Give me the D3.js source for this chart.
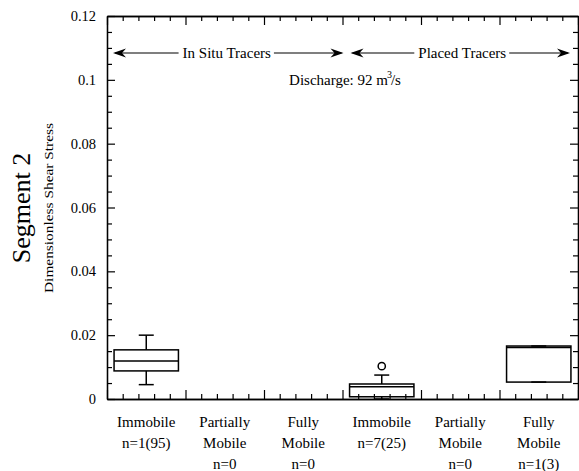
<!DOCTYPE html>
<html><head><meta charset="utf-8">
<script src="https://cdn.jsdelivr.net/npm/d3@7"></script>
<style>body{margin:0;background:#fff}svg{display:block}svg text{font-family:"Liberation Serif","Times New Roman",serif !important;fill:#000}</style>
</head><body>
<svg id="c" width="579" height="471" font-family="Liberation Serif"></svg>
<script>
const categories = ["Immobile in situ","Partially Mobile in situ","Fully Mobile in situ","Immobile placed","Partially Mobile placed","Fully Mobile placed"];
const labelLines = [["Immobile","n=1(95)"],["Partially","Mobile","n=0"],["Fully","Mobile","n=0"],["Immobile","n=7(25)"],["Partially","Mobile","n=0"],["Fully","Mobile","n=1(3)"]];
const whiskerLow  = [0.0045, null, null, 0.0000, null, 0.0053];
const q1          = [0.0088, null, null, 0.0007, null, 0.0053];
const median      = [0.0119, null, null, 0.0038, null, 0.0161];
const q3          = [0.0154, null, null, 0.0047, null, 0.0166];
const whiskerHigh = [0.0200, null, null, 0.0075, null, 0.0166];
const outliers    = [[], [], [], [0.0103], [], []];
const yTicks = [0, 0.02, 0.04, 0.06, 0.08, 0.1, 0.12];
const yTickLabels = ["0","0.02","0.04","0.06","0.08","0.1","0.12"];
const groups = [{name:"In Situ Tracers", from:0, to:3}, {name:"Placed Tracers", from:3, to:6}];

const FONT = "Liberation Serif";
const svg = d3.select("#c");
const L=107, R=578, T=16, B=399;
const x = d3.scaleBand().domain(categories).range([L,R]).padding(0);
const xl = d3.scaleLinear().domain([0,categories.length]).range([L,R]);
const y = d3.scaleLinear().domain([0,0.12]).range([B,T]);

const majorX = d3.range(0, categories.length+1);
const minorX = d3.range(0, categories.length*5+1).map(d=>d/5).filter(d=>Math.abs(d-Math.round(d))>1e-6);
const minorY = d3.range(0, 25).map(d=>d*0.005).filter(d=>Math.abs(d/0.02-Math.round(d/0.02))>1e-6);

function styleAxis(g){ g.select(".domain").attr("stroke","#000").attr("stroke-width",1.3);
  g.selectAll(".tick line").attr("stroke","#000").attr("stroke-width",1.2); g.selectAll("text").remove(); }

svg.append("g").attr("transform",`translate(0,${B})`).call(d3.axisBottom(xl).tickValues(majorX).tickSizeInner(-9).tickSizeOuter(0)).call(styleAxis);
svg.append("g").attr("transform",`translate(0,${B})`).call(d3.axisBottom(xl).tickValues(minorX).tickSizeInner(-5).tickSizeOuter(0)).call(styleAxis);
svg.append("g").attr("transform",`translate(0,${T})`).call(d3.axisTop(xl).tickValues(majorX).tickSizeInner(-9).tickSizeOuter(0)).call(styleAxis);
svg.append("g").attr("transform",`translate(0,${T})`).call(d3.axisTop(xl).tickValues(minorX).tickSizeInner(-5).tickSizeOuter(0)).call(styleAxis);
svg.append("g").attr("transform",`translate(${R},0)`).call(d3.axisRight(y).tickValues(yTicks).tickSizeInner(-8).tickSizeOuter(0)).call(styleAxis);
svg.append("g").attr("transform",`translate(${R},0)`).call(d3.axisRight(y).tickValues(minorY).tickSizeInner(-5).tickSizeOuter(0)).call(styleAxis);
svg.append("g").attr("transform",`translate(${L},0)`).call(d3.axisLeft(y).tickValues(minorY).tickSizeInner(-5).tickSizeOuter(0)).call(styleAxis);
const ly = svg.append("g").attr("transform",`translate(${L},0)`)
  .call(d3.axisLeft(y).tickValues(yTicks).tickSizeInner(-8).tickSizeOuter(0).tickPadding(11).tickFormat((d,i)=>yTickLabels[i]));
ly.attr("font-family",FONT).attr("font-size",14.5);
ly.select(".domain").attr("stroke","#000").attr("stroke-width",1.3);
ly.selectAll(".tick line").attr("stroke","#000").attr("stroke-width",1.2);
ly.selectAll("text").attr("font-size",14.5).attr("font-family",FONT).attr("fill","#000");

categories.forEach((c,i)=>{
  const cx = x(c)+x.bandwidth()/2;
  labelLines[i].forEach((t,j)=>{
    svg.append("text").attr("x",cx).attr("y",427+j*21).attr("text-anchor","middle").attr("font-family",FONT).attr("font-size",15).text(t);
  });
});

svg.append("text").attr("transform","translate(30,208) rotate(-90)").attr("text-anchor","middle").attr("font-family",FONT).attr("font-size",26).text("Segment 2");
svg.append("text").attr("transform","translate(53,208) rotate(-90)").attr("text-anchor","middle").attr("font-family",FONT).attr("font-size",13)
  .attr("textLength",170).attr("lengthAdjust","spacingAndGlyphs").text("Dimensionless Shear Stress");

const bw = x.bandwidth()*0.82, cw = 15;
categories.forEach((c,i)=>{
  if(q1[i]===null) return;
  const cx = x(c)+x.bandwidth()/2;
  const g = svg.append("g").attr("stroke","#000").attr("stroke-width",1.5).attr("fill","none");
  g.append("line").attr("x1",cx).attr("x2",cx).attr("y1",y(q3[i])).attr("y2",y(whiskerHigh[i]));
  g.append("line").attr("x1",cx).attr("x2",cx).attr("y1",y(q1[i])).attr("y2",y(whiskerLow[i]));
  g.append("line").attr("x1",cx-cw/2).attr("x2",cx+cw/2).attr("y1",y(whiskerHigh[i])).attr("y2",y(whiskerHigh[i]));
  g.append("line").attr("x1",cx-cw/2).attr("x2",cx+cw/2).attr("y1",y(whiskerLow[i])).attr("y2",y(whiskerLow[i]));
  g.append("rect").attr("x",cx-bw/2).attr("width",bw).attr("y",y(q3[i])).attr("height",y(q1[i])-y(q3[i]));
  g.append("line").attr("x1",cx-bw/2).attr("x2",cx+bw/2).attr("y1",y(median[i])).attr("y2",y(median[i]));
  outliers[i].forEach(o=>g.append("circle").attr("cx",cx).attr("cy",y(o)).attr("r",3.6));
});

const ay = 53;
function arrowHead(tx, dir){
  svg.append("path").attr("d",`M${tx},${ay} L${tx-dir*13},${ay-4.5} L${tx-dir*9},${ay} L${tx-dir*13},${ay+4.5} Z`).attr("fill","#000");
}
groups.forEach((gr,k)=>{
  const cxm = xl((gr.from+gr.to)/2)+2;
  const t = svg.append("text").attr("x",cxm).attr("y",58).attr("text-anchor","middle").attr("font-family",FONT).attr("font-size",15).text(gr.name);
  const w = t.node().getComputedTextLength();
  const left = k===0 ? xl(gr.from)+6 : xl(gr.from)+8;
  const right = k===0 ? xl(gr.to)+1 : xl(gr.to)-8;
  svg.append("line").attr("x1",left+2).attr("x2",cxm-w/2-4).attr("y1",ay).attr("y2",ay).attr("stroke","#000").attr("stroke-width",1.2);
  svg.append("line").attr("x1",cxm+w/2+3).attr("x2",right-2).attr("y1",ay).attr("y2",ay).attr("stroke","#000").attr("stroke-width",1.2);
  arrowHead(left,-1); arrowHead(right,1);
});

const dt = svg.append("text").attr("x",345).attr("y",85).attr("text-anchor","middle").attr("font-family",FONT).attr("font-size",15);
dt.append("tspan").text("Discharge: 92 m");
dt.append("tspan").attr("font-size",10).attr("dy",-7).attr("dx",-1).text("3");
dt.append("tspan").attr("dy",7).attr("dx",-1).text("/s");
</script>
</body></html>
